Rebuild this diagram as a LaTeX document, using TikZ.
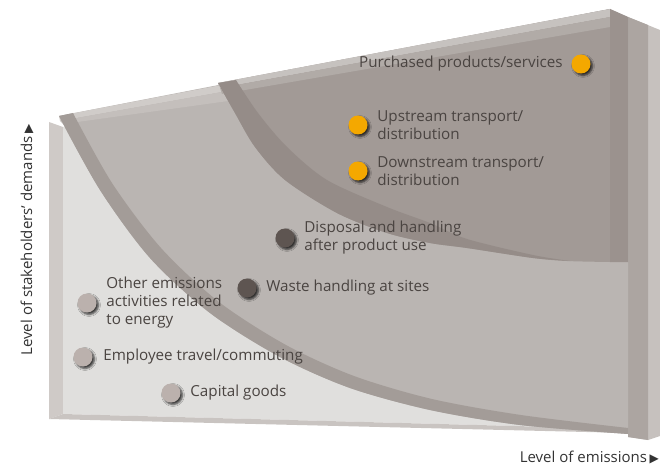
\documentclass[tikz,border=0pt]{standalone}
\usepackage{fontspec}
\setmainfont{Open Sans}
\newfontfamily\symfont{DejaVu Sans}
\usetikzlibrary{positioning,shadows.blur}

\definecolor{backfront}{HTML}{E0DFDD}
\definecolor{backside}{HTML}{CFCAC7}
\definecolor{backbottom}{HTML}{C9C4C1}
\definecolor{sidefar}{HTML}{C6C1BE}
\definecolor{sidemid}{HTML}{ACA5A1}
\definecolor{midfront}{HTML}{BAB5B2}
\definecolor{midtop}{HTML}{D0CCC9}
\definecolor{midtopb}{HTML}{C4BFBC}
\definecolor{midband}{HTML}{A39C98}
\definecolor{inrfront}{HTML}{A29A96}
\definecolor{inrtop}{HTML}{C6C2BF}
\definecolor{inrtopb}{HTML}{B1ABA7}
\definecolor{inrband}{HTML}{958C88}
\definecolor{inrside}{HTML}{9B928E}
\definecolor{dotorange}{HTML}{F4A800}
\definecolor{dotdark}{HTML}{5E5551}
\definecolor{dotlight}{HTML}{BBB1AD}
\definecolor{lbltext}{HTML}{4A4441}

\begin{document}
\begin{tikzpicture}[x=1pt,y=-1pt,
            dot/.style = {circle, minimum size=19pt, inner sep=0pt,
                blur shadow={shadow xshift=2pt, shadow yshift=-2pt,
                    shadow blur radius=2pt, shadow opacity=75}},
            hot/.style = {dot, fill=dotorange},
            warm/.style = {dot, fill=dotdark},
            cold/.style = {dot, fill=dotlight},
            lbl/.style = {inner sep=0pt, text=lbltext, align=left,
                font=\fontsize{15.2}{18}\selectfont},
            axis/.style = {inner sep=0pt, text=black!80,
                font=\fontsize{15}{17}\selectfont}
            ]
            \useasboundingbox (0,0) rectangle (660,465);

            \fill[backside] (49,122) -- (63,127) -- (63,414) -- (49,419) -- cycle;
            \fill[backfront] (63,127) -- (628,30) -- (628,429) -- (63,414) -- cycle;
            \fill[backbottom] (49,419) -- (63,414) -- (628,429) -- (628,433) -- cycle;
            \fill[sidefar] (628,17) -- (660,30) -- (660,436) -- (648,440) -- (628,437) -- cycle;
            \fill[sidemid] (628,17) -- (648,25) -- (648,440) -- (628,437) -- cycle;

            \fill[midfront] (59,116) -- (610,9) -- (628,17) -- (628,434)
                -- plot[smooth] coordinates {(628,434) (520,425) (430,410) (350,388)
                    (280,357) (210,313) (150,258) (100,190) (59,116)} -- cycle;
            \fill[midtop] (59,116) -- (300,70) -- (300,78) -- (60,121) -- cycle;
            \fill[midtopb] (60,121) -- (300,78) -- (300,91) -- (63,124) -- cycle;
            \fill[midband] plot[smooth] coordinates {(59,116) (100,190) (150,258) (210,313)
                    (280,357) (350,388) (430,410) (520,425) (628,434)}
                -- (628,428) -- plot[smooth] coordinates {(628,428) (521,415) (432,399)
                    (354,376) (286,345) (219,302) (161,248) (112,183) (73,113)} -- cycle;

            \fill[inrfront] (218,83) -- (610,9) -- (610,262)
                -- plot[smooth] coordinates {(610,262) (567,261) (533,258) (467,248) (430,243)
                    (387,233) (337,213) (285,180) (255,147) (235,113) (218,83)} -- cycle;
            \fill[inrtop] (218,83) -- (610,9) -- (610,17) -- (220,88) -- cycle;
            \fill[inrtopb] (220,88) -- (610,17) -- (610,27) -- (222,94) -- cycle;
            \fill[inrband] plot[smooth] coordinates {(218,83) (235,113) (255,147) (285,180)
                    (337,213) (387,233) (430,243) (467,248) (533,258) (570,261)}
                -- plot[smooth] coordinates {(570,261) (533,255) (467,239) (430,223)
                    (387,207) (327,180) (287,147) (258,113) (236,80)} -- cycle;
            \fill[inrside] (610,9) -- (628,17) -- (628,262) -- (610,262) -- cycle;

            \node[hot] (purch) at (581,64) {};
            \node[lbl, left=8.5pt of purch] (purchtxt) {Purchased products/services};
            \node[hot] (upstr) at (358,125) {};
            \node[lbl, right=9.5pt of upstr] (upstrtxt) {Upstream transport/\\distribution};
            \node[hot] (dnstr) at (358,171) {};
            \node[lbl, right=9.5pt of dnstr] (dnstrtxt) {Downstream transport/\\distribution};
            \node[warm] (dispo) at (285,238) {};
            \node[lbl, right=9.5pt of dispo] (dispotxt) {Disposal and handling\\after product use};
            \node[warm] (waste) at (247,288) {};
            \node[lbl, right=9.5pt of waste] (wastetxt) {Waste handling at sites};
            \node[cold] (other) at (87,303) {};
            \node[lbl, right=9.5pt of other] (othertxt) {Other emissions\\activities related\\to energy};
            \node[cold] (emplo) at (83,357) {};
            \node[lbl, right=10.5pt of emplo] (emplotxt) {Employee travel/commuting};
            \node[cold] (capit) at (171,393) {};
            \node[lbl, right=9.5pt of capit] (capittxt) {Capital goods};

            \node[axis, rotate=90] (ylab) at (27,240) {Level of stakeholders’ demands\,{\symfont\fontsize{12}{12}\selectfont ▶}};
            \node[axis, anchor=east] (xlab) at (659,457) {Level of emissions\,{\symfont\fontsize{12}{12}\selectfont ▶}};
\end{tikzpicture}
\end{document}
